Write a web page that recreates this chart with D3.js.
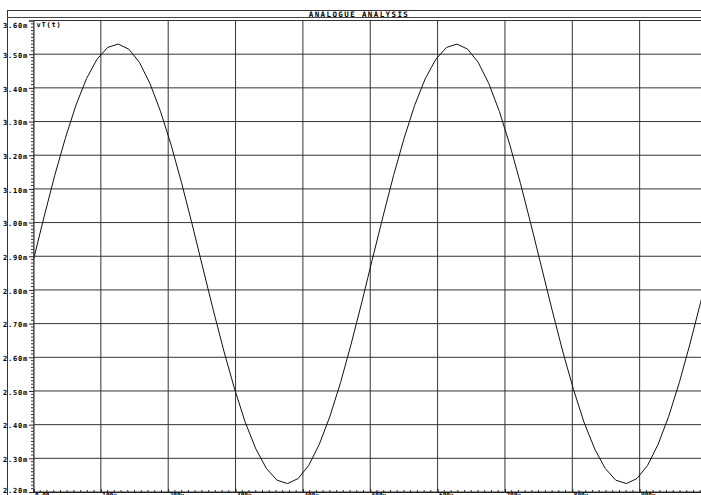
<!DOCTYPE html>
<html>
<head>
<meta charset="utf-8">
<script src="https://cdn.jsdelivr.net/npm/d3@7"></script>
<style>
  html, body { margin: 0; padding: 0; background: #fff; overflow: hidden; }
  svg { display: block; }
  text { font-family: "DejaVu Sans Mono", monospace; fill: #000; font-weight: bold; }
</style>
</head>
<body>
<svg id="chart" width="701" height="495"></svg>
<script>
// ---- data ----
const chartTitle = "ANALOGUE ANALYSIS";
const traceName = "vT(t)";
const timeUs = [0, 15.7, 31.4, 47.2, 62.9, 78.6, 94.3, 110.0, 125.8, 141.5, 157.2, 172.9, 188.6, 204.4, 220.1, 235.8,
  251.5, 267.2, 283.0, 298.7, 314.4, 330.1, 345.8, 361.6, 377.3, 393.0, 408.7, 424.4, 440.2, 455.9, 471.6, 487.3,
  503.0, 518.8, 534.5, 550.2, 565.9, 581.6, 597.4, 613.1, 628.8, 644.5, 660.2, 676.0, 691.7, 707.4, 723.1, 738.8,
  754.6, 770.3, 786.0, 801.7, 817.4, 833.2, 848.9, 864.6, 880.3, 896.0, 911.8, 927.5, 943.2, 958.9, 974.6, 990.4, 1006.1];
const vT_mV = [2.890, 3.017, 3.139, 3.250, 3.348, 3.427, 3.485, 3.520, 3.530, 3.515, 3.476, 3.413, 3.330, 3.230, 3.116, 2.993,
  2.865, 2.738, 2.616, 2.505, 2.407, 2.328, 2.270, 2.235, 2.225, 2.240, 2.279, 2.342, 2.425, 2.525, 2.639, 2.762,
  2.890, 3.017, 3.139, 3.250, 3.348, 3.427, 3.485, 3.520, 3.530, 3.515, 3.476, 3.413, 3.330, 3.230, 3.116, 2.993,
  2.865, 2.738, 2.616, 2.505, 2.407, 2.328, 2.270, 2.235, 2.225, 2.240, 2.279, 2.342, 2.425, 2.525, 2.639, 2.762, 2.890];
const yTickValues = [3.6, 3.5, 3.4, 3.3, 3.2, 3.1, 3.0, 2.9, 2.8, 2.7, 2.6, 2.5, 2.4, 2.3, 2.2];
const yTickLabels = ["3.60m", "3.50m", "3.40m", "3.30m", "3.20m", "3.10m", "3.00m", "2.90m", "2.80m", "2.70m", "2.60m", "2.50m", "2.40m", "2.30m", "2.20m"];
const xTickValues = [0, 100, 200, 300, 400, 500, 600, 700, 800, 900, 1000];
const xTickLabels = ["0.00", "100u", "200u", "300u", "400u", "500u", "600u", "700u", "800u", "900u", "1.00m"];

// ---- layout ----
const W = 701, H = 495;
const plot = { left: 33.5, right: 707, top: 20.5, bottom: 492 };
const svg = d3.select("#chart");

const x = d3.scaleLinear().domain([0, 1000]).range([plot.left, plot.right]);
const y = d3.scaleLinear().domain([2.2, 3.6]).range([plot.bottom, plot.top]);

// frame: left border + title bar
svg.append("line").attr("x1", 7.5).attr("x2", 7.5).attr("y1", 10).attr("y2", H).attr("stroke", "#333");
svg.append("line").attr("x1", 7).attr("x2", W).attr("y1", 10.5).attr("y2", 10.5).attr("stroke", "#333");
svg.append("line").attr("x1", 7).attr("x2", W).attr("y1", 17.5).attr("y2", 17.5).attr("stroke", "#444");
svg.append("text").attr("x", 359).attr("y", 16.5).attr("text-anchor", "middle")
  .style("font-size", "7.5px").style("letter-spacing", "1.4px").text(chartTitle);

// clip for plot
svg.append("defs").append("clipPath").attr("id", "clip")
  .append("rect").attr("x", plot.left).attr("y", plot.top - 1).attr("width", W - plot.left).attr("height", plot.bottom - plot.top + 2);

// grid
const grid = svg.append("g").attr("clip-path", "url(#clip)");
grid.selectAll(".hg").data(yTickValues).join("line")
  .attr("x1", plot.left).attr("x2", W)
  .attr("y1", d => y(d)).attr("y2", d => y(d))
  .attr("stroke", "#333").attr("stroke-width", 1);
grid.selectAll(".vg").data(xTickValues).join("line")
  .attr("x1", d => x(d)).attr("x2", d => x(d))
  .attr("y1", plot.top).attr("y2", plot.bottom)
  .attr("stroke", "#333").attr("stroke-width", 1);

// y axis (left ruler)
const yAxis = d3.axisLeft(y).tickValues(yTickValues).tickSize(4.5).tickPadding(1)
  .tickFormat((d, i) => yTickLabels[i]);
const gy = svg.append("g").attr("transform", `translate(${plot.left},0)`).call(yAxis);
gy.select(".domain").attr("stroke", "#222");
gy.selectAll(".tick line").attr("stroke", "#222");
gy.selectAll(".tick text").style("font-size", "7px").style("letter-spacing", "0.8px")
  .attr("dy", (d, i) => i === 0 ? "0.95em" : (i === yTickValues.length - 1 ? "0.05em" : "0.45em")).attr("fill", "#000");
const yMinor = d3.range(220, 361).map(v => v / 100).filter(v => Math.round(v * 100) % 10 !== 0);
svg.append("g").selectAll("line").data(yMinor).join("line")
  .attr("x1", plot.left - 2.5).attr("x2", plot.left)
  .attr("y1", d => y(d)).attr("y2", d => y(d)).attr("stroke", "#333");

// x axis (bottom ruler)
const xAxis = d3.axisBottom(x).tickValues(xTickValues).tickSize(-3).tickPadding(1)
  .tickFormat((d, i) => xTickLabels[i]);
const gx = svg.append("g").attr("transform", `translate(0,${plot.bottom})`).call(xAxis);
gx.select(".domain").attr("stroke", "#222");
gx.selectAll(".tick line").attr("stroke", "#222");
gx.selectAll(".tick text").style("font-size", "6px").attr("text-anchor", "start").attr("dx", 1).attr("fill", "#000");
const xMinor = d3.range(0, 1001, 10).filter(v => v % 100 !== 0);
svg.append("g").selectAll("line").data(xMinor).join("line")
  .attr("x1", d => x(d)).attr("x2", d => x(d))
  .attr("y1", plot.bottom - 2).attr("y2", plot.bottom).attr("stroke", "#333");

// trace label
svg.append("text").attr("x", plot.left + 3).attr("y", 26.5)
  .style("font-size", "7px").style("letter-spacing", "0.8px").text(traceName);

// curve
const pts = timeUs.map((t, i) => [t, vT_mV[i]]);
svg.append("path").datum(pts).attr("clip-path", "url(#clip)")
  .attr("fill", "none").attr("stroke", "#111").attr("stroke-width", 1)
  .attr("d", d3.line().x(d => x(d[0])).y(d => y(d[1])));
</script>
</body>
</html>
